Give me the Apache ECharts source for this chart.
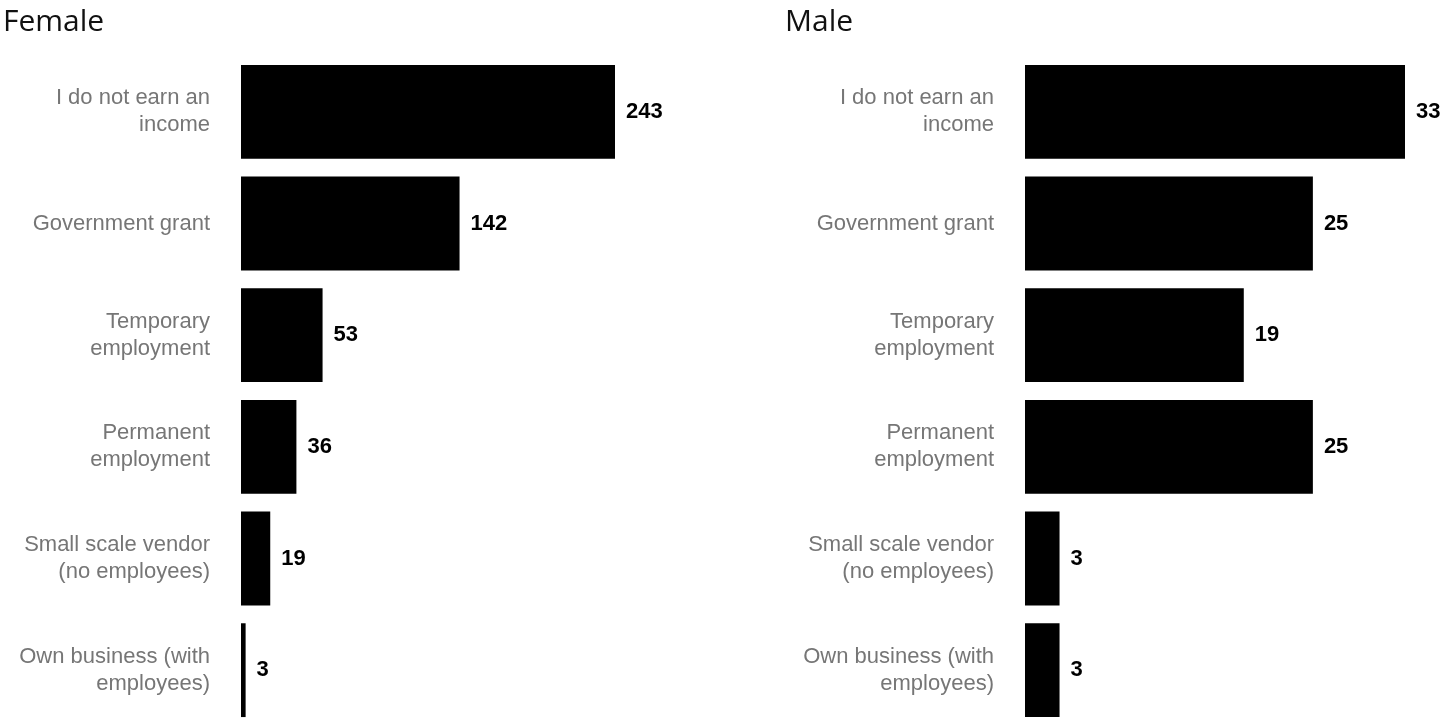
<!DOCTYPE html>
<html>
<head>
<meta charset="utf-8">
<script src="https://cdn.jsdelivr.net/npm/echarts@6/dist/echarts.min.js"></script>
<style>
html,body{margin:0;padding:0;background:#fff;}
#chart{width:1444px;height:718px;}
</style>
</head>
<body>
<div id="chart"></div>
<script>
const categories = [
  "I do not earn an\nincome",
  "Government grant",
  "Temporary\nemployment",
  "Permanent\nemployment",
  "Small scale vendor\n(no employees)",
  "Own business (with\nemployees)"
];
const femaleValues = [243, 142, 53, 36, 19, 3];
const maleValues = [33, 25, 19, 25, 3, 3];
const panelTitles = ["Female", "Male"];

const chart = echarts.init(document.getElementById('chart'), null, {renderer: 'canvas'});

const labelFont = "'Liberation Sans', Arial, Helvetica, sans-serif";

function yAxisFor(gridIndex) {
  return {
    type: 'category',
    gridIndex: gridIndex,
    data: categories,
    inverse: true,
    axisLine: {show: false},
    axisTick: {show: false},
    splitLine: {show: false},
    axisLabel: {
      margin: 31,
      color: '#767676',
      fontFamily: labelFont,
      fontSize: 22,
      lineHeight: 27,
      align: 'right'
    }
  };
}
function xAxisFor(gridIndex, max) {
  return {
    type: 'value',
    gridIndex: gridIndex,
    min: 0,
    max: max,
    show: false
  };
}
function seriesFor(idx, values) {
  return {
    type: 'bar',
    xAxisIndex: idx,
    yAxisIndex: idx,
    data: values,
    barCategoryGap: '16%',
    itemStyle: {color: '#000'},
    label: {
      show: true,
      position: 'right',
      distance: 11,
      color: '#000',
      fontFamily: labelFont,
      fontWeight: 'bold',
      fontSize: 22
    },
    silent: true,
    animation: false
  };
}

chart.setOption({
  animation: false,
  title: [
    {text: panelTitles[0], left: -2, top: 2, textStyle: {fontFamily: "'Open Sans', sans-serif", fontSize: 30, fontWeight: 'normal', color: '#111'}},
    {text: panelTitles[1], left: 780, top: 2, textStyle: {fontFamily: "'Open Sans', sans-serif", fontSize: 30, fontWeight: 'normal', color: '#111'}}
  ],
  grid: [
    {left: 241, top: 56, width: 374, height: 670, containLabel: false, outerBoundsMode: 'none'},
    {left: 1025, top: 56, width: 380, height: 670, containLabel: false, outerBoundsMode: 'none'}
  ],
  xAxis: [xAxisFor(0, 243), xAxisFor(1, 33)],
  yAxis: [yAxisFor(0), yAxisFor(1)],
  series: [seriesFor(0, femaleValues), seriesFor(1, maleValues)]
});
</script>
</body>
</html>
